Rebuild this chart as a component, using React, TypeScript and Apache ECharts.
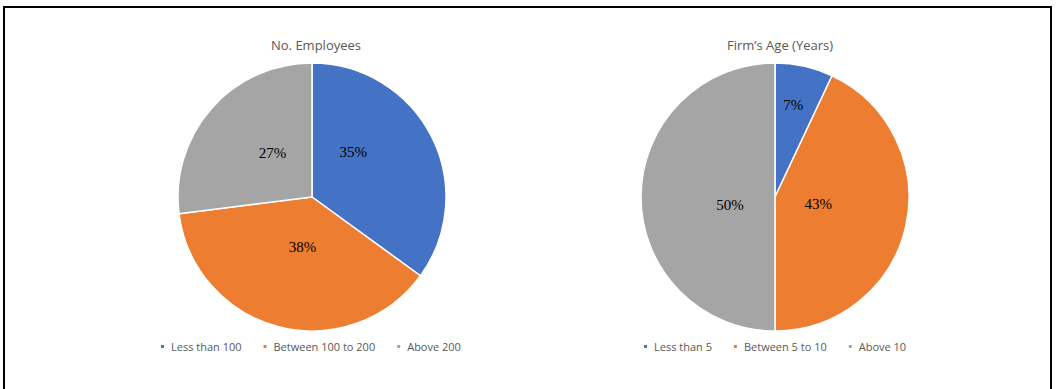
import React, { useEffect, useRef } from "react";
import * as echarts from "echarts";

const employeeCategories = ["Less than 100", "Between 100 to 200", "Above 200"];
const employeeValues = [35, 38, 27];
const ageCategories = ["Less than 5", "Between 5 to 10", "Above 10"];
const ageValues = [7, 43, 50];
const titles = ["No. Employees", "Firm’s Age (Years)"];
const colors = ["#4472C4", "#ED7D31", "#A5A5A5"];

// label nudges (Excel-like placement)
const employeeLabelShift = [
  [-21, -13],
  [8, -18],
  [13, 2],
];
const ageLabelShift = [
  [3, -24],
  [-25, -8],
  [25, 8],
];

export default function App() {
  const ref = useRef<HTMLDivElement>(null);
  useEffect(() => {
    if (!ref.current) return;
    const chart = echarts.init(ref.current, undefined, { renderer: "svg" });
    const makeSeries = (
      name: string,
      cats: string[],
      vals: number[],
      cx: number,
      shifts: number[][]
    ) => ({
      type: "pie",
      name,
      center: [cx, 197],
      radius: [0, 134],
      startAngle: 90,
      clockwise: true,
      data: cats.map((c, i) => ({
        name: c,
        value: vals[i],
        itemStyle: { color: colors[i] },
      })),
      itemStyle: { borderColor: "#fff", borderWidth: 1.5 },
      label: {
        show: true,
        position: "inside",
        formatter: "{c}%",
        fontFamily: "Liberation Serif",
        fontSize: 15,
        color: "#000",
      },
      labelLine: { show: false },
      labelLayout: (p: any) => {
        const s = shifts[p.dataIndex] || [0, 0];
        return { dx: s[0], dy: s[1] };
      },
      emphasis: { disabled: true },
    });
    const legendCommon = {
      orient: "horizontal",
      icon: "rect",
      itemWidth: 5,
      itemHeight: 5,
      itemGap: 20,
      top: 341,
      padding: 0,
      textStyle: {
        fontFamily: "Open Sans",
        fontSize: 11,
        color: "#595959",
        padding: [0, 0, 0, 1],
      },
    };
    const titleStyle = {
      fontFamily: "Open Sans",
      fontSize: 13,
      fontWeight: "normal",
      color: "#595959",
    };
    chart.setOption({
      animation: false,
      backgroundColor: "#fff",
      title: [
        { text: titles[0], left: 311, top: 33, textAlign: "center", textStyle: titleStyle },
        { text: titles[1], left: 775, top: 33, textAlign: "center", textStyle: titleStyle },
      ],
      legend: [
        { ...legendCommon, left: 159, data: employeeCategories },
        { ...legendCommon, left: 642, data: ageCategories },
      ],
      series: [
        makeSeries("No. Employees", employeeCategories, employeeValues, 312, employeeLabelShift),
        makeSeries("Firm's Age", ageCategories, ageValues, 775, ageLabelShift),
      ],
      graphic: [
        {
          type: "rect",
          shape: { x: 4, y: 7, width: 1047, height: 400 },
          style: { fill: "none", stroke: "#000", lineWidth: 2 },
          silent: true,
        },
      ],
    });
    return () => chart.dispose();
  }, []);
  return (
    <div
      ref={ref}
      style={{ position: "fixed", left: 0, top: 0, width: 1056, height: 389 }}
    />
  );
}
